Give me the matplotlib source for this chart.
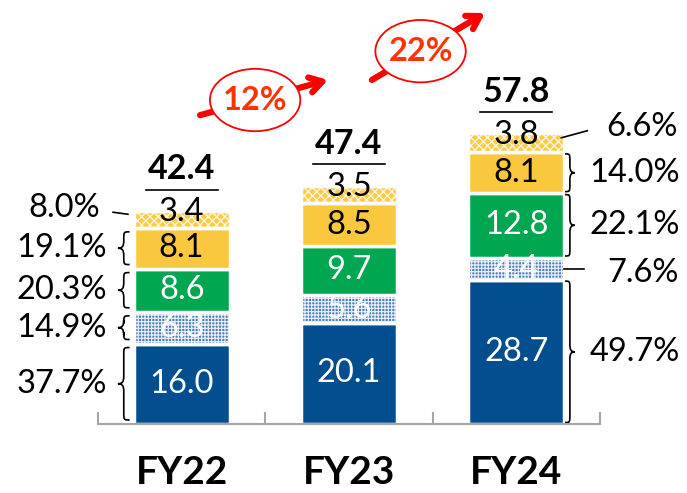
import matplotlib
matplotlib.use('Agg')
import matplotlib.pyplot as plt
from matplotlib.path import Path
from matplotlib.patches import PathPatch, Ellipse
import numpy as np

# data
years = ['FY22', 'FY23', 'FY24']
seg_blue = [16.0, 20.1, 28.7]
seg_blue_h = [6.3, 5.6, 4.4]
seg_green = [8.6, 9.7, 12.8]
seg_yellow = [8.1, 8.5, 8.1]
seg_yellow_h = [3.4, 3.5, 3.8]
totals = [42.4, 47.4, 57.8]
pct_fy22 = ['37.7%', '14.9%', '20.3%', '19.1%', '8.0%']
pct_fy24 = ['49.7%', '7.6%', '22.1%', '14.0%', '6.6%']

plt.rcParams['font.family'] = ['Lato', 'DejaVu Sans']
plt.rcParams['hatch.linewidth'] = 0.9

BLUE = '#034E8E'
GREEN = '#00A650'
YELLOW = '#F9C83E'

# (values, face, hatch colour, hatch, text colour)
segs = [
    (seg_blue, BLUE, None, None, 'white'),
    (seg_blue_h, '#4A7DBA', '#E6EDF6', '+' * 5, 'white'),
    (seg_green, GREEN, None, None, 'white'),
    (seg_yellow, YELLOW, None, None, 'black'),
    (seg_yellow_h, '#F9CB4A', '#FFF8E6', 'x' * 4, 'black'),
]

fig = plt.figure(figsize=(6.87, 4.93), dpi=100)
PX = 5.03  # pixels per unit
ax = fig.add_axes([98 / 687, (493 - 424) / 493, 502 / 687, 84 * PX / 493])
ax.set_xlim(-0.5, 2.5)
ax.set_ylim(0, 84)

x = np.arange(len(years))
W = 0.574
bottom = np.zeros(len(years))
centers = []
for vals, fc, hc, hp, tc in segs:
    vals = np.array(vals)
    if hc:
        ax.bar(x, vals, W, bottom=bottom, color=fc, edgecolor=hc, hatch=hp, lw=0)
    else:
        ax.bar(x, vals, W, bottom=bottom, color=fc, lw=0)
    ax.bar(x, vals, W, bottom=bottom, fill=False, edgecolor='white', lw=2.5)
    c = bottom + vals / 2
    centers.append((bottom.copy(), bottom + vals))
    dy = 1.5 if hp and hp[0] == 'x' else 0
    for i in range(len(x)):
        ax.text(x[i], c[i] + dy, f'{vals[i]:.1f}', ha='center', va='center',
                color=tc, fontsize=23.5)
    bottom = bottom + vals

# totals with underline
for i in range(len(x)):
    ax.text(x[i], totals[i] + 8.3, f'{totals[i]:.1f}', ha='center', va='center',
            fontsize=24.5, fontweight='bold')
    ax.plot([x[i] - 0.215, x[i] + 0.215], [totals[i] + 4.2] * 2, color='black', lw=1.2)


def brace(xb, y0, y1, w, r, left=True):
    s = -1 if left else 1
    xm = xb + s * w / 2
    xt = xb + s * w
    mid = (y0 + y1) / 2
    verts = [(xb, y1), (xm, y1), (xm, y1), (xm, y1 - r),
             (xm, mid + r),
             (xm, mid + r * 0.2), (xm + s * w * 0.15, mid), (xt, mid),
             (xm + s * w * 0.15, mid), (xm, mid - r * 0.2), (xm, mid - r),
             (xm, y0 + r),
             (xm, y0), (xm, y0), (xb, y0)]
    codes = [Path.MOVETO] + [Path.CURVE4] * 3 + [Path.LINETO] + [Path.CURVE4] * 6 + \
            [Path.LINETO] + [Path.CURVE4] * 3
    ax.add_patch(PathPatch(Path(verts, codes), fill=False, lw=1.2, color='black',
                           clip_on=False))


# FY22 left side
bl = x[0] - W / 2
for k in range(4):
    y0, y1 = centers[k][0][0], centers[k][1][0]
    brace(bl - 0.024, y0 + 0.8, y1 - 0.8, 0.07, 1.5, left=True)
    ax.text(bl - 0.16, (y0 + y1) / 2, pct_fy22[k], ha='right', va='center', fontsize=23.5)
y0, y1 = centers[4][0][0], centers[4][1][0]
ax.plot([bl - 0.123, bl - 0.034], [(y0 + y1) / 2 + 1.4, (y0 + y1) / 2 + 1.0], color='black', lw=1.2)
ax.text(bl - 0.2, (y0 + y1) / 2 + 2.2, pct_fy22[4], ha='right', va='center', fontsize=23.5)

# FY24 right side
br = x[2] + W / 2
for k in [0, 2, 3]:
    y0, y1 = centers[k][0][2], centers[k][1][2]
    brace(br + 0.004, y0 + 0.3, y1 - 0.3, 0.058, 1.5, left=False)
    ax.text(br + 0.15, (y0 + y1) / 2, pct_fy24[k], ha='left', va='center', fontsize=23.5)
y0, y1 = centers[1][0][2], centers[1][1][2]
ax.plot([br, br + 0.12], [(y0 + y1) / 2] * 2, color='black', lw=1.2)
ax.text(br + 0.257, (y0 + y1) / 2 - 0.8, pct_fy24[1], ha='left', va='center', fontsize=23.5)
y0, y1 = centers[4][0][2], centers[4][1][2]
ax.plot([br - 0.018, br + 0.137], [(y0 + y1) / 2 + 1.0, (y0 + y1) / 2 + 2.4], color='black', lw=1.2)
ax.text(br + 0.251, (y0 + y1) / 2 + 3.1, pct_fy24[4], ha='left', va='center', fontsize=23.5)

# growth arrows
arrows = [((0.11, totals[0] + 19.0), (0.875, totals[1] + 21.0)),
          ((1.137, totals[1] + 21.0), (1.813, totals[2] + 23.9))]
for i, (p0, p1) in enumerate(arrows):
    g = totals[i + 1] / totals[i] - 1
    ax.annotate('', xy=p1, xytext=p0, annotation_clip=False,
                arrowprops=dict(arrowstyle='->,head_length=0.9,head_width=0.55',
                                lw=4.5, color='#FF0000', shrinkA=0, shrinkB=0))
    t = 0.43
    cx = p0[0] + t * (p1[0] - p0[0])
    cy = p0[1] + t * (p1[1] - p0[1])
    ax.add_patch(Ellipse((cx, cy), 0.54, 12.4, facecolor='white', edgecolor='#FF0000',
                         lw=1.3, zorder=5, clip_on=False))
    ax.text(cx, cy, f'{g * 100:.0f}%', ha='center', va='center', color='#FF3300',
            fontsize=23.5, fontweight='bold', zorder=6)

# axis styling
for s in ['top', 'right', 'left']:
    ax.spines[s].set_visible(False)
ax.spines['bottom'].set_color('#A6A6A6')
ax.spines['bottom'].set_linewidth(1.5)
ax.set_yticks([])
ax.set_xticks([-0.5, 0.5, 1.5, 2.5], ['', '', '', ''])
ax.tick_params(axis='x', which='major', direction='in', length=9, width=1.5, color='#A6A6A6')
ax.set_xticks(x, years, minor=True)
ax.tick_params(axis='x', which='minor', length=0, pad=22, labelsize=28)
for lab in ax.get_xticklabels(minor=True):
    lab.set_fontweight('bold')

fig.savefig('out.png', dpi=100)
